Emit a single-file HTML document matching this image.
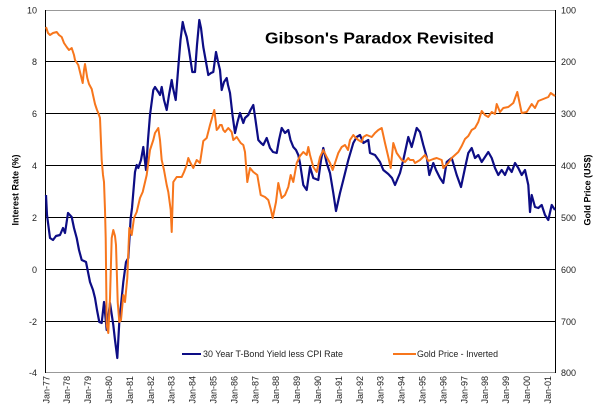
<!DOCTYPE html>
<html><head><meta charset="utf-8"><style>
html,body{margin:0;padding:0;background:#fff;}
svg{display:block;}
text{font-family:"Liberation Sans",Arial,sans-serif;}
</style></head><body>
<svg width="600" height="411" viewBox="0 0 600 411" xmlns="http://www.w3.org/2000/svg">
<rect width="600" height="411" fill="#fff"/>
<!-- grid -->
<g stroke="#000" stroke-width="1">
<line x1="45.5" y1="61.5" x2="555.5" y2="61.5"/>
<line x1="45.5" y1="113.5" x2="555.5" y2="113.5"/>
<line x1="45.5" y1="165.5" x2="555.5" y2="165.5"/>
<line x1="45.5" y1="217.5" x2="555.5" y2="217.5"/>
<line x1="45.5" y1="269.5" x2="555.5" y2="269.5"/>
<line x1="45.5" y1="321.5" x2="555.5" y2="321.5"/>
</g>
<line x1="45.5" y1="10.5" x2="555.5" y2="10.5" stroke="#999" stroke-width="1"/>
<line x1="45.5" y1="372.5" x2="555.5" y2="372.5" stroke="#999" stroke-width="1"/>
<line x1="45.5" y1="10" x2="45.5" y2="373" stroke="#000" stroke-width="1"/>
<line x1="555.5" y1="10" x2="555.5" y2="373" stroke="#000" stroke-width="1"/>

<!-- left labels -->
<g font-size="9" fill="#222" text-anchor="end">
<text x="37" y="13.5">10</text>
<text x="37" y="65">8</text>
<text x="37" y="117">6</text>
<text x="37" y="169">4</text>
<text x="37" y="221">2</text>
<text x="37" y="273">0</text>
<text x="37" y="325">-2</text>
<text x="37" y="376">-4</text>
</g>
<!-- right labels -->
<g font-size="9" fill="#222" text-anchor="start">
<text x="561" y="13.5">100</text>
<text x="561" y="65">200</text>
<text x="561" y="117">300</text>
<text x="561" y="169">400</text>
<text x="561" y="221">500</text>
<text x="561" y="273">600</text>
<text x="561" y="325">700</text>
<text x="561" y="376">800</text>
</g>

<!-- x labels -->
<g font-size="9" fill="#222" text-anchor="end">
<text transform="translate(49.3,376) rotate(-90)">Jan-77</text>
<text transform="translate(70.2,376) rotate(-90)">Jan-78</text>
<text transform="translate(91.1,376) rotate(-90)">Jan-79</text>
<text transform="translate(112,376) rotate(-90)">Jan-80</text>
<text transform="translate(132.9,376) rotate(-90)">Jan-81</text>
<text transform="translate(153.8,376) rotate(-90)">Jan-82</text>
<text transform="translate(174.7,376) rotate(-90)">Jan-83</text>
<text transform="translate(195.6,376) rotate(-90)">Jan-84</text>
<text transform="translate(216.5,376) rotate(-90)">Jan-85</text>
<text transform="translate(237.4,376) rotate(-90)">Jan-86</text>
<text transform="translate(258.3,376) rotate(-90)">Jan-87</text>
<text transform="translate(279.2,376) rotate(-90)">Jan-88</text>
<text transform="translate(300.1,376) rotate(-90)">Jan-89</text>
<text transform="translate(321,376) rotate(-90)">Jan-90</text>
<text transform="translate(341.9,376) rotate(-90)">Jan-91</text>
<text transform="translate(362.8,376) rotate(-90)">Jan-92</text>
<text transform="translate(383.7,376) rotate(-90)">Jan-93</text>
<text transform="translate(404.6,376) rotate(-90)">Jan-94</text>
<text transform="translate(425.5,376) rotate(-90)">Jan-95</text>
<text transform="translate(446.4,376) rotate(-90)">Jan-96</text>
<text transform="translate(467.3,376) rotate(-90)">Jan-97</text>
<text transform="translate(488.2,376) rotate(-90)">Jan-98</text>
<text transform="translate(509.1,376) rotate(-90)">Jan-99</text>
<text transform="translate(530,376) rotate(-90)">Jan-00</text>
<text transform="translate(550.9,376) rotate(-90)">Jan-01</text>
</g>

<!-- axis titles -->
<text transform="translate(18.5,190) rotate(-90)" font-size="9" font-weight="bold" text-anchor="middle" fill="#000">Interest Rate (%)</text>
<text transform="translate(590.5,190) rotate(-90)" font-size="9" font-weight="bold" text-anchor="middle" fill="#000">Gold Price (US$)</text>

<!-- title -->
<text x="265" y="43.5" font-size="16" font-weight="bold" fill="#000" textLength="229" lengthAdjust="spacingAndGlyphs">Gibson's Paradox Revisited</text>

<!-- blue series -->
<polyline fill="none" stroke="#0d0d85" stroke-width="2.2" stroke-linejoin="round" points="
46,195 47,215 50,238 53,240 56,236 60,235 63,228 65,233 68,213 71.7,217 74,228 76.7,238 79,250 81.7,260 84,261 86,262 88,272 90,282 93,290 95,298 97,310 99.3,322 101.7,323 104,302 106.7,330 110,303 113.3,325 115,340 117.3,358 119.3,322 121,305 123.3,282 126,262 128.3,258 130.7,218 132,208 135,172 136.7,165 138.3,168 141,160 143.3,147 146,170 148,140 150,115 153.3,90 155,87 158.3,92 160,95 161.7,87 164,100 166.7,110 169,95 171.7,80 173,88 175.7,100 178.3,67 180.5,40 182.7,22 184.5,30 186.7,37 189,50 192.3,72 195,72 197,45 199.3,20 201,28 203.3,47 206,62 208.3,75 211,73 213.3,72 216,52 218.3,63 220,70 221.7,90 224,82 226.7,78 228,85 230,93 232.5,115 235,133 237.5,122 240,113 243.3,123 245,118 248.3,115 250.5,110 253.3,105 255.5,120 258.3,140 261,143 263.3,145 266.7,138 270,148 273,152 276.7,153 279,140 281.7,128 285,133 288.3,130 290.5,140 293.3,147 296,150 298.3,155 300,163 303.3,185 306.7,190 310,167 313.3,178 318.3,180 321,160 323.3,148 326.7,163 330,173 333.3,193 336,211 340,193 343.3,180 348.3,160 353.3,143 356.7,137 360,135 363.3,143 368.3,140 370,153 375,155 380,162 383.3,170 388.3,174 392,178 395,185 400,173 403.3,160 408.3,137 411.7,147 416.7,128 420,132 423.3,145 426.7,157 429.3,175 433.3,163 436,170 440,178 443.3,183 446.7,162 451.7,158 456.7,175 461,187 465,168 468.3,153 471.7,148 475,158 478.3,155 481.7,162 485,157 488.3,152 491.7,158 495,168 498.3,175 501.7,170 505,175 508.3,167 511.7,172 515,163 518.3,168 521.7,175 525,170 528.3,185 530,212 531.7,195 535,207 538.3,208 541.7,205 545,215 548.3,220 551.7,205 555,210"/>

<!-- orange series -->
<polyline fill="none" stroke="#f7761c" stroke-width="2" stroke-linejoin="round" points="
46,27 48,33 50,35 53,33 56.7,32 59,35 61.7,37 64,43 66.7,47 69,50 71.7,48 74,55 75,60 78.3,65 80,72 82.7,83 84,70 85,64 87.3,78 89,84 91.7,89 93,95 95,104 97,110 98.3,113 100,118 101.7,160 103,175 104,182 105,210 105.7,238 106.3,290 106.7,325 108.3,333 110,298 111.7,238 113.3,230 115,236 116,245 117.7,302 119.3,322 121,320 123.3,295 125,302 127.3,278 129.3,228 131.7,235 134,218 136.7,212 140,198 142.7,192 146.7,175 150,150 153.3,140 155,133 158.3,128 160,140 161.7,160 164,170 166.7,185 168.3,192 170.7,210 171.7,232 173.3,182 176.7,177 181.7,177 184,172 186.7,165 188.3,158 190,162 193.3,168 196.7,160 200,163 203.3,141 206.7,138 210,125 212,118 214.3,110 216.7,130 218.5,128 220,125 221.7,125 223.3,130 225,132 228.3,128 231.7,132 233.3,140 236.7,137 240.7,143 243.3,145 245,152 247.3,182 250,168 253.3,172 257.3,175 260.7,195 265,197 268.3,200 271,210 272.7,218 276,202 278.3,183 281.7,198 285,195 288.3,187 290.7,175 293.3,182 296.7,163 300,156 303.3,152 306.7,155 308.3,147 310,155 313.3,167 316.7,172 320,157 323.3,150 326.7,157 330,163 332.7,170 335,163 338.3,153 341.7,147 345,145 348,150 350,140 353.3,135 355,137 358.3,140 361.7,142 363.3,137 366.7,135 371.7,137 375,133 378.3,130 381.7,128 385,143 388.3,157 390.7,168 393.3,143 396.7,153 401.7,160 405,162 408.3,158 410,160 413.3,160 415,163 420,160 425,155 428.3,161 433.3,159 436.7,158 441.7,160 443.3,168 448.3,163 451.7,158 455,155 458.3,152 461.7,146 465,139 468.3,136 471.7,130 475,128 478.3,122 481.7,111 485,115 488.3,117 491.7,112 495,114 496.7,104 500,112 503.3,108 508.3,107 513.3,103 517.3,92 521.7,113 526.7,112 531.7,104 535,108 538.3,101 543.3,99 548.3,97 550.7,93 555,96"/>

<!-- legend -->
<line x1="182" y1="354" x2="201" y2="354" stroke="#0d0d85" stroke-width="2"/>
<text x="203" y="357" font-size="9" fill="#222" textLength="140" lengthAdjust="spacingAndGlyphs">30 Year T-Bond Yield less CPI Rate</text>
<line x1="393" y1="354" x2="416" y2="354" stroke="#f7761c" stroke-width="2"/>
<text x="417" y="357" font-size="9" fill="#222" textLength="81" lengthAdjust="spacingAndGlyphs">Gold Price - Inverted</text>
</svg>
</body></html>
